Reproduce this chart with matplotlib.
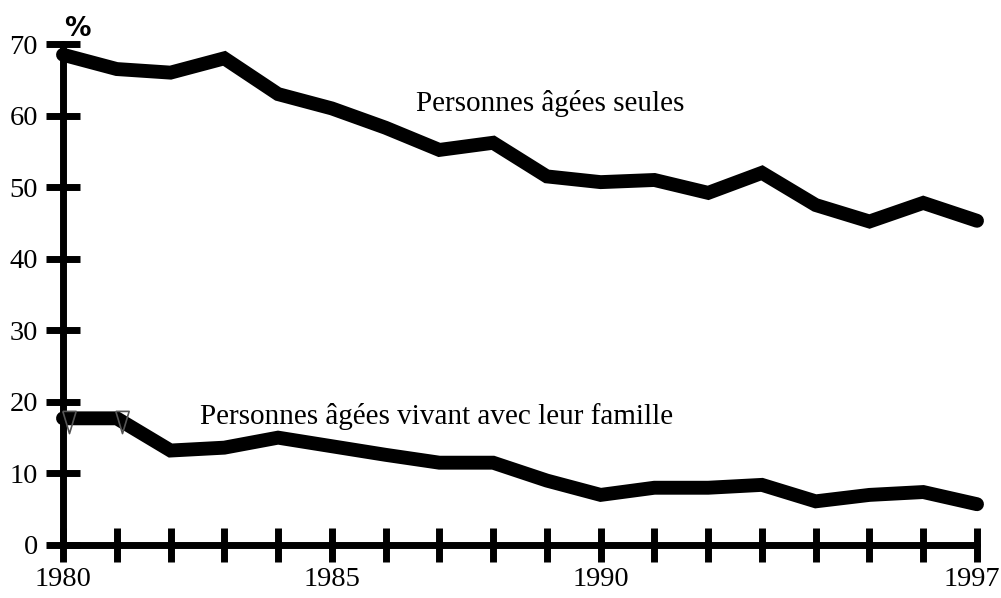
import matplotlib.pyplot as plt
from matplotlib.transforms import offset_copy, ScaledTranslation

years = list(range(1980, 1998))
seules = [68.5, 66.5, 66.0, 68.0, 63.0, 61.0, 58.3, 55.2, 56.2, 51.5,
          50.7, 51.0, 49.2, 52.0, 47.5, 45.2, 47.8, 45.3]
famille = [17.7, 17.7, 13.2, 13.6, 15.0, 13.8, 12.6, 11.5, 11.5, 9.0,
           7.0, 8.0, 8.0, 8.4, 6.1, 7.0, 7.4, 5.7]
y_ticks = [0, 10, 20, 30, 40, 50, 60, 70]
x_labels = {1980: "1980", 1985: "1985", 1990: "1990", 1997: "1997"}

plt.rcParams['font.family'] = ['Liberation Serif', 'DejaVu Serif']

fig = plt.figure(figsize=(10.01, 5.98), dpi=100)
ax = fig.add_axes([63 / 1001, 53 / 598, (977 - 63) / 1001, (545 - 44) / 598])

ax.plot(years, seules, color='black', lw=10, solid_capstyle='round',
        solid_joinstyle='miter', clip_on=False, zorder=3)
ax.plot(years, famille, color='black', lw=10, solid_capstyle='round',
        solid_joinstyle='miter', clip_on=False, zorder=3)
# small grey marks near the start of the lower line
tri = [(-0.6, 1.0), (0.6, 1.0), (0.0, -1.0), (-0.6, 1.0)]
ax.plot(years[:2], [17.2, 17.2], ls='none', marker=tri, mfc='none',
        mec='#555555', ms=16, mew=1.2, clip_on=False, zorder=4,
        transform=offset_copy(ax.transData, fig=fig, x=4, y=0, units='points'))

ax.set_xlim(1980, 1997)
ax.set_ylim(0, 70)

for s in ['top', 'right']:
    ax.spines[s].set_visible(False)
for s in ['left', 'bottom']:
    ax.spines[s].set_linewidth(5)
    ax.spines[s].set_capstyle('round')

ax.set_yticks(y_ticks)
ax.set_xticks(years)
ax.set_xticklabels([x_labels.get(y, "") for y in years])
ax.tick_params(axis='both', direction='inout', length=24, width=5,
               labelsize=20.5, pad=4)
ax.tick_params(axis='y', pad=6)

# shift the last year label a little so it stays inside the figure
last = ax.get_xticklabels()[-1]
last.set_transform(last.get_transform() + ScaledTranslation(-5 / 100, 0, fig.dpi_scale_trans))

ax.text(1980.27, 71.1, "%", family='DejaVu Sans', fontweight='bold',
        fontsize=19, ha='center', va='baseline', color='black')
ax.text(1989.07, 61.7, "Personnes âgées seules", fontsize=21,
        ha='center', va='center')
ax.text(1986.95, 18.0, "Personnes âgées vivant avec leur famille", fontsize=21,
        ha='center', va='center')

fig.savefig("out.png", dpi=100)
